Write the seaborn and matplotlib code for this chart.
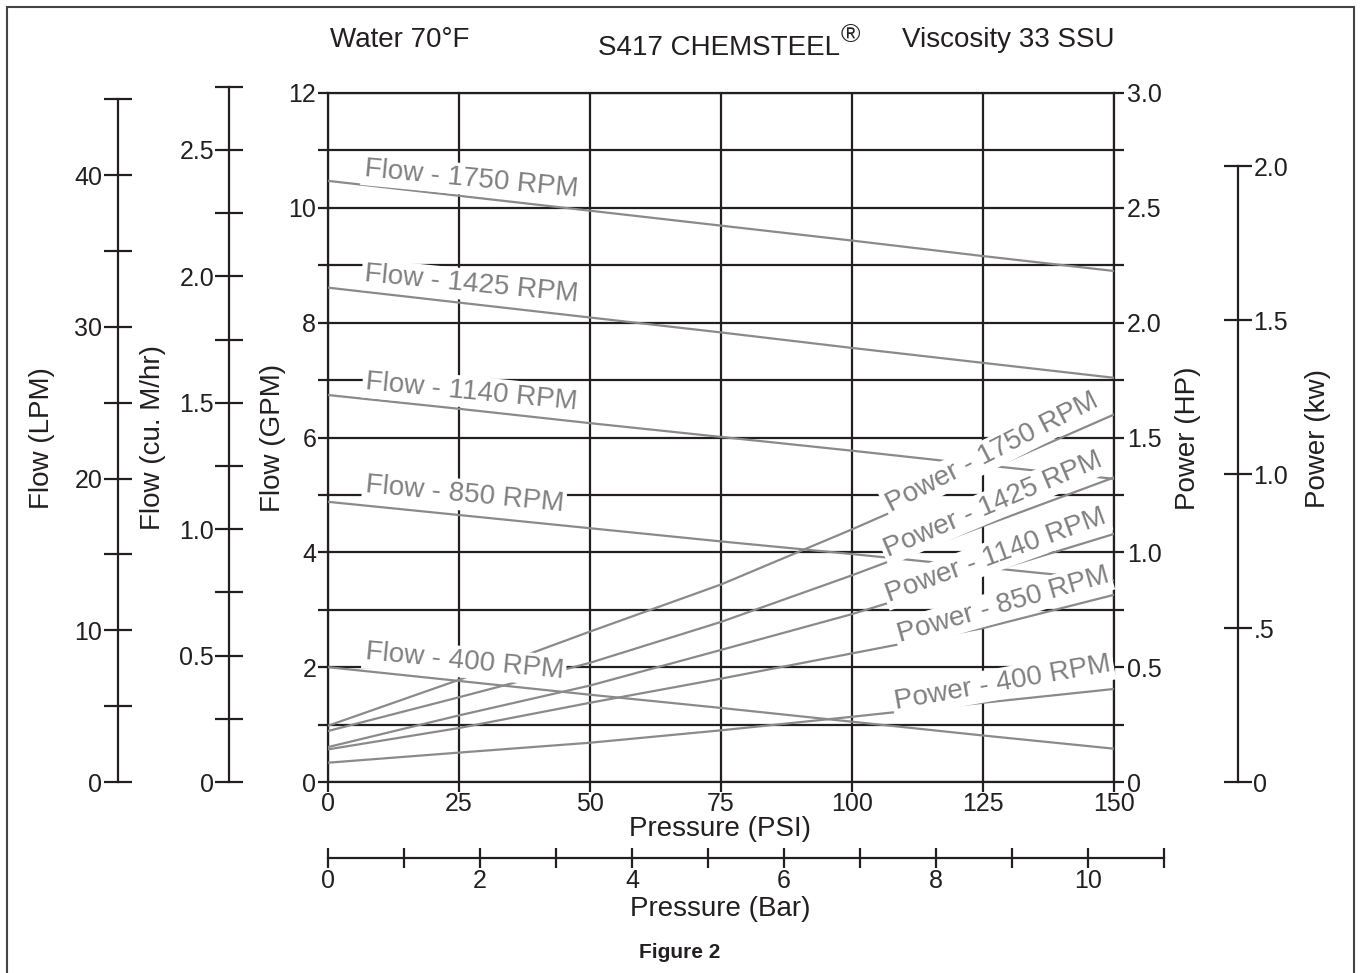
import numpy as np
import pandas as pd
import matplotlib
matplotlib.use("Agg")
import matplotlib.pyplot as plt
import seaborn as sns
from matplotlib.patches import Rectangle

sns.set_style("white")
plt.rcParams['font.family'] = ['Liberation Sans', 'DejaVu Sans']

# ---- data ----
psi = [0, 25, 50, 75, 100, 125, 150]
rpms = [1750, 1425, 1140, 850, 400]

# flow in GPM
flow_1750 = [10.47, 10.21, 9.95, 9.69, 9.43, 9.16, 8.90]
flow_1425 = [8.61, 8.35, 8.09, 7.83, 7.56, 7.30, 7.04]
flow_1140 = [6.74, 6.50, 6.25, 6.01, 5.77, 5.52, 5.28]
flow_850 = [4.88, 4.65, 4.42, 4.19, 3.97, 3.74, 3.51]
flow_400 = [2.00, 1.76, 1.52, 1.29, 1.05, 0.81, 0.58]

# power in HP
power_1750 = [0.245, 0.445, 0.655, 0.86, 1.10, 1.35, 1.60]
power_1425 = [0.222, 0.369, 0.519, 0.697, 0.90, 1.114, 1.326]
power_1140 = [0.152, 0.29, 0.42, 0.575, 0.731, 0.906, 1.08]
power_850 = [0.142, 0.235, 0.345, 0.45, 0.56, 0.67, 0.815]
power_400 = [0.084, 0.128, 0.171, 0.225, 0.284, 0.345, 0.405]

flows = [flow_1750, flow_1425, flow_1140, flow_850, flow_400]
powers = [power_1750, power_1425, power_1140, power_850, power_400]

# tick labels
gpm_ticks = list(range(13))
gpm_labels = ['0', '', '2', '', '4', '', '6', '', '8', '', '10', '', '12']
hp_ticks = [v / 4 for v in range(13)]
hp_labels = ['0', '', '0.5', '', '1.0', '', '1.5', '', '2.0', '', '2.5', '', '3.0']
lpm_ticks = list(range(0, 50, 5))
lpm_labels = ['0', '', '10', '', '20', '', '30', '', '40', '']
m3_ticks = [v / 4 for v in range(12)]
m3_labels = ['0', '', '0.5', '', '1.0', '', '1.5', '', '2.0', '', '2.5', '']
kw_ticks = [0, 0.5, 1.0, 1.5, 2.0]
kw_labels = ['0', '.5', '1.0', '1.5', '2.0']
bar_ticks = list(range(12))
bar_labels = ['0', '', '2', '', '4', '', '6', '', '8', '', '10', '']

# ---- layout helpers (pixels of a 1360x973 canvas) ----
W, H = 1360, 973
def fx(px):
    return px / W
def fy(py):
    return 1 - py / H

dark = '#231f20'
gray = '#8a8a8a'
lw = 1.6
px_gpm = 689 / 12.0
GPM_TO_LPM = 3.785
GPM_TO_M3H = 0.2271
HP_TO_KW = 0.7457
PSI_PER_BAR = 14.5038

fig = plt.figure(figsize=(13.6, 9.73), dpi=100)

# ---- main axes: Flow (GPM) vs Pressure (PSI) ----
ax = fig.add_axes([fx(328), fy(782), 786 / W, 689 / H])
ax.set_xlim(0, 150)
ax.set_ylim(0, 12)
ax.set_xticks(psi)
ax.set_xticklabels([str(p) for p in psi])
ax.set_yticks(gpm_ticks)
ax.set_yticklabels(gpm_labels)
ax.grid(True, color=dark, lw=lw)
ax.set_axisbelow(True)
ax.tick_params(direction='out', length=7.5, width=lw, color=dark, labelsize=18,
               labelcolor=dark, pad=1, left=True, bottom=True)
ax.tick_params(axis='x', pad=0)
for s in ax.spines.values():
    s.set_color(dark)
    s.set_linewidth(lw)
ax.set_xlabel('Pressure (PSI)', fontsize=20, color=dark, va='center')
ax.xaxis.set_label_coords(fx(720), fy(829), transform=fig.transFigure)
ax.set_ylabel('Flow (GPM)', fontsize=20, color=dark, va='center')
ax.yaxis.set_label_coords(fx(273), fy(438), transform=fig.transFigure)

for rpm, vals in zip(rpms, flows):
    sns.lineplot(x=psi, y=vals, ax=ax, color=gray, lw=1.6, zorder=3)

# ---- right axis: Power (HP) ----
ax_hp = ax.twinx()
ax_hp.set_ylim(0, 3)
ax_hp.set_yticks(hp_ticks)
ax_hp.set_yticklabels(hp_labels)
ax_hp.tick_params(direction='out', length=7.5, width=lw, color=dark, labelsize=18,
                  labelcolor=dark, pad=2, right=True, left=False)
for s in ax_hp.spines.values():
    s.set_visible(False)
ax_hp.set_ylabel('Power (HP)', fontsize=20, color=dark, va='center')
ax_hp.yaxis.set_label_coords(fx(1188), fy(438), transform=fig.transFigure)

for rpm, vals in zip(rpms, powers):
    sns.lineplot(x=psi, y=vals, ax=ax_hp, color=gray, lw=1.6, zorder=3)

# curve labels (white box cuts the grid behind them)
flow_label_pos = [(27.3, 10.49), (27.3, 8.66), (27.3, 6.79), (26.0, 5.0), (26.0, 2.09)]
power_label_pos = [(126.7, 5.73), (126.9, 4.83), (127.5, 3.95), (128.8, 3.08), (128.8, 1.72)]
power_label_rot = [27, 23, 20, 16, 10]
box = dict(facecolor='white', edgecolor='none', pad=2)
for rpm, (x, y) in zip(rpms, flow_label_pos):
    ax_hp.text(x, y, f'Flow - {rpm} RPM', transform=ax.transData, rotation=-5.5,
               rotation_mode='anchor', ha='center', va='center', fontsize=20,
               color='#808080', bbox=box, zorder=5)
for rpm, (x, y), rot in zip(rpms, power_label_pos, power_label_rot):
    ax_hp.text(x, y, f'Power - {rpm} RPM', transform=ax.transData, rotation=rot,
               rotation_mode='anchor', ha='center', va='center', fontsize=20,
               color='#808080', bbox=box, zorder=5)

# ---- extra scale axes ----
def side_axis(px_x, top, px_per_unit, ticks, labels, label, label_px, side='left'):
    h = top * px_per_unit
    a = fig.add_axes([fx(px_x), fy(782), 0.0001, h / H])
    a.set_ylim(0, top)
    a.set_xticks([])
    for k, s in a.spines.items():
        s.set_visible(k == side)
        s.set_color(dark)
        s.set_linewidth(lw)
    a.set_yticks(ticks)
    a.set_yticklabels(labels)
    a.tick_params(axis='y', direction='inout', length=20, width=lw, color=dark,
                  labelsize=18, labelcolor=dark, pad=1,
                  left=(side == 'left'), labelleft=(side == 'left'),
                  right=(side == 'right'), labelright=(side == 'right'))
    a.patch.set_alpha(0)
    if side == 'right':
        a.yaxis.set_label_position('right')
    a.set_ylabel(label, fontsize=20, color=dark, va='center')
    a.yaxis.set_label_coords(fx(label_px), fy(438), transform=fig.transFigure)
    return a

side_axis(117.7, 45, px_gpm / GPM_TO_LPM, lpm_ticks, lpm_labels, 'Flow (LPM)', 41.7)
side_axis(229.3, 2.75, px_gpm / GPM_TO_M3H, m3_ticks, m3_labels, 'Flow (cu. M/hr)', 153)
side_axis(1238, 2.0, px_gpm * 4 / HP_TO_KW, kw_ticks, kw_labels, 'Power (kw)', 1318,
          side='right')

# pressure in bar
px_bar = 786 / 150 * PSI_PER_BAR
ax_bar = fig.add_axes([fx(328), fy(858), 11 * px_bar / W, 0.0001])
ax_bar.set_xlim(0, 11)
ax_bar.set_yticks([])
for k, s in ax_bar.spines.items():
    s.set_visible(k == 'bottom')
    s.set_color(dark)
    s.set_linewidth(lw)
ax_bar.set_xticks(bar_ticks)
ax_bar.set_xticklabels(bar_labels)
ax_bar.tick_params(axis='x', direction='inout', length=14, width=lw, color=dark,
                   labelsize=18, labelcolor=dark, pad=1, bottom=True)
ax_bar.patch.set_alpha(0)
ax_bar.set_xlabel('Pressure (Bar)', fontsize=20, color=dark, va='center')
ax_bar.xaxis.set_label_coords(fx(720), fy(909), transform=fig.transFigure)

# ---- header and caption ----
fig.text(fx(330), fy(40), 'Water 70°F', fontsize=20, color=dark, ha='left', va='center')
fig.text(fx(719), fy(48), 'S417 CHEMSTEEL', fontsize=20, color=dark, ha='center', va='center')
fig.text(fx(850), fy(35), '®', fontsize=19, color=dark, ha='center', va='center')
fig.text(fx(1115), fy(40), 'Viscosity 33 SSU', fontsize=20, color=dark, ha='right', va='center')
fig.text(fx(680), fy(952), 'Figure 2', fontsize=15, fontweight='bold', color=dark,
         ha='center', va='center')

fig.patches.append(Rectangle((fx(7), -0.02), fx(1354) - fx(7), fy(7) + 0.02, fill=False,
                             lw=1.5, ec='#444444', transform=fig.transFigure))

fig.savefig('out.png', dpi=100, facecolor='white')
